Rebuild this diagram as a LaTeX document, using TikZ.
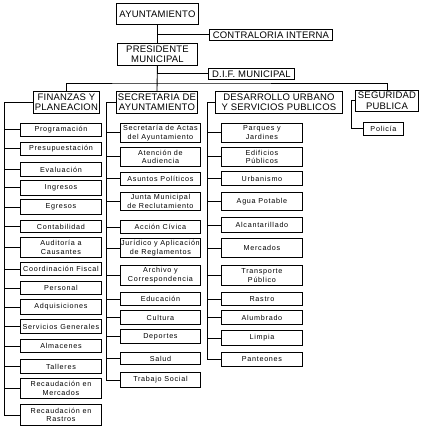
\documentclass[tikz,border=0pt]{standalone}
\usepackage{fontspec}
\setmainfont{Liberation Sans}
\newfontfamily\cabeza[LetterSpace=2]{Liberation Sans}
\newfontfamily\chica[LetterSpace=10]{Liberation Sans}
\usetikzlibrary{positioning}

\tikzset{
    caja/.style={draw, line width=0.9pt, inner sep=0pt, align=center, anchor=north west},
    jefe/.style={caja, font=\cabeza\fontsize{9.5}{10.5}\selectfont},
    area/.style={caja, font=\chica\fontsize{7.2}{8.8}\selectfont},
    linea/.style={line width=0.9pt},
}

\begin{document}
\begin{tikzpicture}[x=1pt, y=-1pt]
    \useasboundingbox (0,0) rectangle (425,430);

    % Mando superior
    \node[jefe, minimum width=82pt, minimum height=21pt] (ayun) at (116,3) {AYUNTAMIENTO};
    \node[jefe, minimum width=123pt, minimum height=11pt] (contra) at (209,29) {CONTRALORIA INTERNA};
    \node[jefe, minimum width=80pt, minimum height=22pt] (pres) at (117,43) {PRESIDENTE\\MUNICIPAL};
    \node[jefe, minimum width=86pt, minimum height=11pt] (dif) at (208,68) {D.I.F. MUNICIPAL};

    \draw[linea] (ayun.south) -- (pres.north);
    \draw[linea] (ayun.south |- contra.west) -- (contra.west);
    \draw[linea] (pres.south |- dif.west) -- (dif.west);

    % Direcciones
    \node[jefe, minimum width=66pt, minimum height=22pt] (fin) at (33,91) {FINANZAS Y\\PLANEACION};
    \node[jefe, minimum width=81pt, minimum height=22pt] (secre) at (116,91) {SECRETARIA DE\\AYUNTAMIENTO};
    \node[jefe, minimum width=127pt, minimum height=22pt] (desa) at (215,91) {DESARROLLO URBANO\\Y SERVICIOS PUBLICOS};
    \node[jefe, minimum width=63pt, minimum height=21pt] (seg) at (355,90) {SEGURIDAD\\PUBLICA};

    \coordinate (bus) at (157,83);
    \draw[linea] (pres.south) -- (secre.north);
    \draw[linea] (fin.north) |- (bus) -| (seg.north);

    % Finanzas y Planeacion
    \foreach \y/\h/\t [count=\i] in {123/13/Programación, 142/13/Presupuestación, 162/14/Evaluación,
        180/15/Ingresos, 199/15/Egresos, 220/12/Contabilidad, 237/20/{Auditoría a\\Causantes},
        262/13/{Coordinación Fiscal}, 281/13/Personal, 299/15/Adquisiciones,
        319/14/{Servicios Generales}, 339/13/Almacenes, 359/14/Talleres,
        378/20/{Recaudación en\\Mercados}, 404/21/{Recaudación en\\Rastros}} {
        \node[area, minimum width=81pt, minimum height=\h pt] (f\i) at (20,\y) {\t};
        \draw[linea] (fin.west) -- ++(-29,0) |- (f\i.west);
    }

    % Secretaria de Ayuntamiento
    \foreach \y/\h/\t [count=\i] in {123/19/{Secretaría de Actas\\del Ayuntamiento},
        147/19/{Atención de\\Audiencia}, 172/13/{Asuntos Políticos},
        192/18/{Junta Municipal\\de Reclutamiento}, 220/13/{Acción Cívica},
        238/19/{Jurídico y Aplicación\\de Reglamentos}, 265/20/{Archivo y\\Correspondencia},
        292/13/Educación, 310/14/Cultura, 329/14/Deportes, 352/12/Salud, 372/15/{Trabajo Social}} {
        \node[area, minimum width=80pt, minimum height=\h pt] (s\i) at (120,\y) {\t};
        \draw[linea] (secre.west) -- ++(-10,0) |- (s\i.west);
    }

    % Desarrollo Urbano
    \foreach \y/\h/\t [count=\i] in {123/19/{Parques y\\Jardines}, 147/19/{Edificios\\Públicos},
        171/14/Urbanismo, 192/18/{Agua Potable}, 217/15/Alcantarillado, 238/19/Mercados,
        265/20/{Transporte\\Público}, 292/13/Rastro, 310/14/Alumbrado, 330/15/Limpia,
        352/14/Panteones} {
        \node[area, minimum width=81pt, minimum height=\h pt] (d\i) at (221,\y) {\t};
        \draw[linea] (desa.west) -- ++(-8,0) |- (d\i.west);
    }

    % Seguridad Publica
    \node[area, minimum width=40pt, minimum height=13pt] (pol) at (363,122) {Policía};
    \draw[linea] (seg.west) -- ++(-4,0) |- (pol.west);
\end{tikzpicture}
\end{document}
